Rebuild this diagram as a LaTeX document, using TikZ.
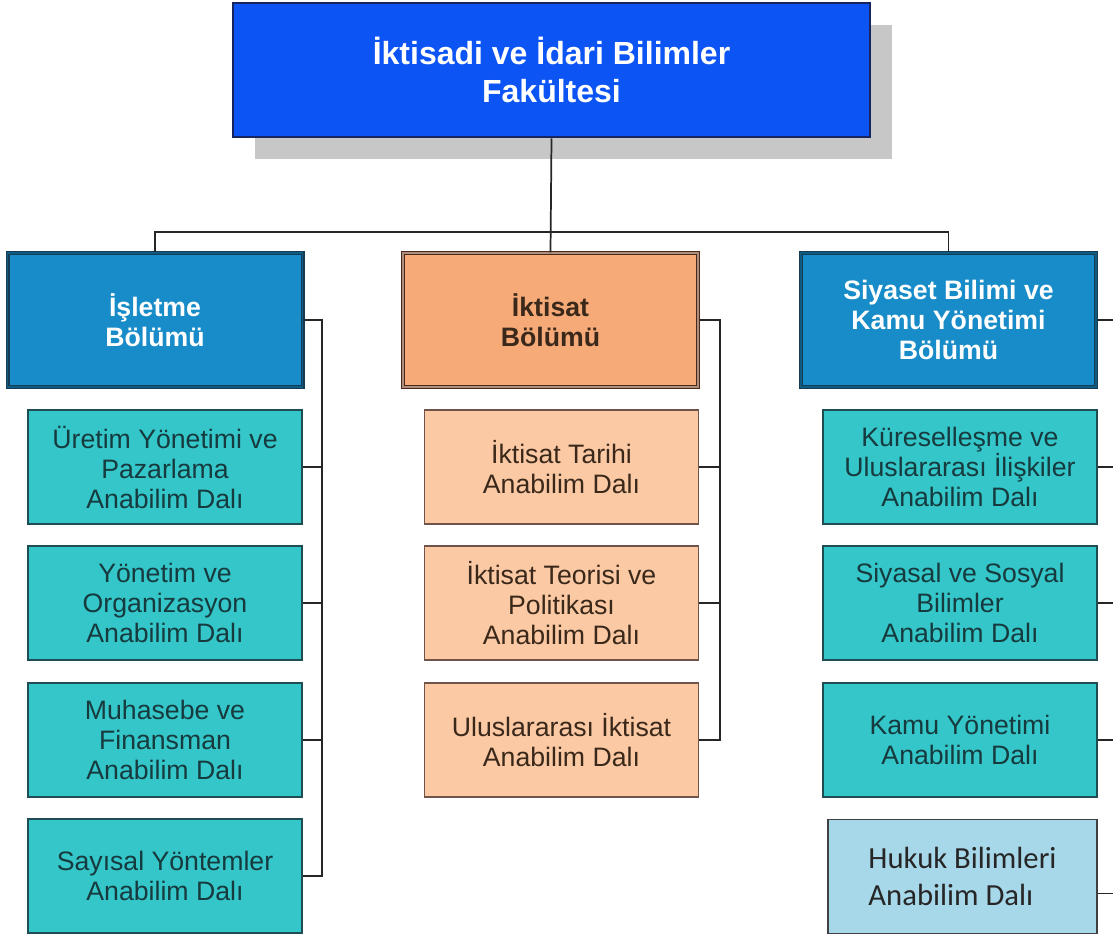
\documentclass[tikz,border=0pt]{standalone}
\usepackage{fontspec}
\setmainfont{Liberation Sans}
\newfontfamily\calibri{Carlito}
\usetikzlibrary{shadows}
\definecolor{fakmavi}{RGB}{12,84,243}
\definecolor{fakkenar}{RGB}{22,36,96}
\definecolor{bolmavi}{RGB}{24,140,200}
\definecolor{bolkenar}{RGB}{20,60,84}
\definecolor{turkoaz}{RGB}{52,198,200}
\definecolor{turkenar}{RGB}{30,78,84}
\definecolor{turkyazi}{RGB}{22,58,62}
\definecolor{turuncu}{RGB}{245,170,120}
\definecolor{acikturuncu}{RGB}{251,201,164}
\definecolor{kahve}{RGB}{76,40,28}
\definecolor{kahveyazi}{RGB}{58,40,26}
\definecolor{acikmavi}{RGB}{167,216,233}
\tikzstyle{kutu}=[rectangle, align=center, inner sep=0pt]
\tikzstyle{fakulte}=[kutu, fill=fakmavi, draw=fakkenar, line width=2pt,
                text=white, font=\bfseries\fontsize{24}{28.5}\selectfont,
                minimum width=477.75pt, minimum height=100.5pt,
                drop shadow={shadow xshift=16.5pt, shadow yshift=-16.5pt,
                fill=black!22, opacity=1}]
\tikzstyle{bolum}=[kutu, fill=bolmavi, draw=bolkenar, line width=1pt,
                double=bolmavi!65!black, double distance=1pt, text=white,
                font=\bfseries\fontsize{20}{22.5}\selectfont,
                minimum width=221.25pt, minimum height=100.5pt]
\tikzstyle{bolumtur}=[bolum, fill=turuncu, draw=kahve, double=turuncu!55!black!70,
                text=kahveyazi]
\tikzstyle{dal}=[kutu, fill=turkoaz, draw=turkenar, line width=1.1pt, text=turkyazi,
                font=\fontsize{20}{22.5}\selectfont,
                minimum width=205.5pt, minimum height=85.5pt]
\tikzstyle{daltur}=[dal, fill=acikturuncu, draw=kahve!80, text=kahveyazi]
\tikzstyle{dalhukuk}=[dal, fill=acikmavi, draw=black!75, text=black!85, align=left,
                font=\calibri\fontsize{23}{27.5}\selectfont, minimum width=201.75pt]
\tikzstyle{link}=[line width=1.3pt, black!85]

\begin{document}
\begin{tikzpicture}[x=0.75pt,y=-0.75pt]
\useasboundingbox (0,0) rectangle (1113,935);

\node[fakulte] (iibf) at (551.5,70) {İktisadi ve İdari Bilimler\\Fakültesi};

\node[bolum] (isl) at (155,320) {İşletme\\Bölümü};
\node[bolumtur] (ikt) at (550.5,320) {İktisat\\Bölümü};
\node[bolum] (sbk) at (948.5,320) {Siyaset Bilimi ve\\Kamu Yönetimi\\Bölümü};

% isletme
\node[dal] (ure) at (165,467) {Üretim Yönetimi ve\\Pazarlama\\Anabilim Dalı};
\node[dal] (yon) at (165,603) {Yönetim ve\\Organizasyon\\Anabilim Dalı};
\node[dal] (muh) at (165,740) {Muhasebe ve\\Finansman\\Anabilim Dalı};
\node[dal] (say) at (165,876) {Sayısal Yöntemler\\Anabilim Dalı};

% iktisat
\node[daltur] (tar) at (561.5,467) {İktisat Tarihi\\Anabilim Dalı};
\node[daltur] (teo) at (561.5,603) {İktisat Teorisi ve\\Politikası\\Anabilim Dalı};
\node[daltur] (uik) at (561.5,740) {Uluslararası İktisat\\Anabilim Dalı};

% siyaset
\node[dal] (kur) at (960,467) {Küreselleşme ve\\Uluslararası İlişkiler\\Anabilim Dalı};
\node[dal] (sis) at (960,603) {Siyasal ve Sosyal\\Bilimler\\Anabilim Dalı};
\node[dal] (kam) at (960,740) {Kamu Yönetimi\\Anabilim Dalı};
\node[dalhukuk] (huk) at (962.5,876.5) {Hukuk Bilimleri\\Anabilim Dalı};

\coordinate (bar) at (552,232);
\coordinate (lrail) at (322,0);
\coordinate (mrail) at (720,0);
\coordinate (rrail) at (1113,0);
\coordinate (hukc) at ([yshift=-12.75pt]huk.east);

\draw[link] (iibf.south) -- (ikt.north);
\draw[link] (isl.north) |- (bar) -| (sbk.north);

\draw[link] (isl.east) -| (lrail |- say.east) -- (say.east);
\foreach \n in {ure,yon,muh}
  \draw[link] (\n.east) -- (lrail |- \n.east);

\draw[link] (ikt.east) -| (mrail |- uik.east) -- (uik.east);
\foreach \n in {tar,teo}
  \draw[link] (\n.east) -- (mrail |- \n.east);

\foreach \n in {sbk,kur,sis,kam,hukc}
  \draw[link] (\n.east) -- (rrail |- \n.east);
\end{tikzpicture}
\end{document}
